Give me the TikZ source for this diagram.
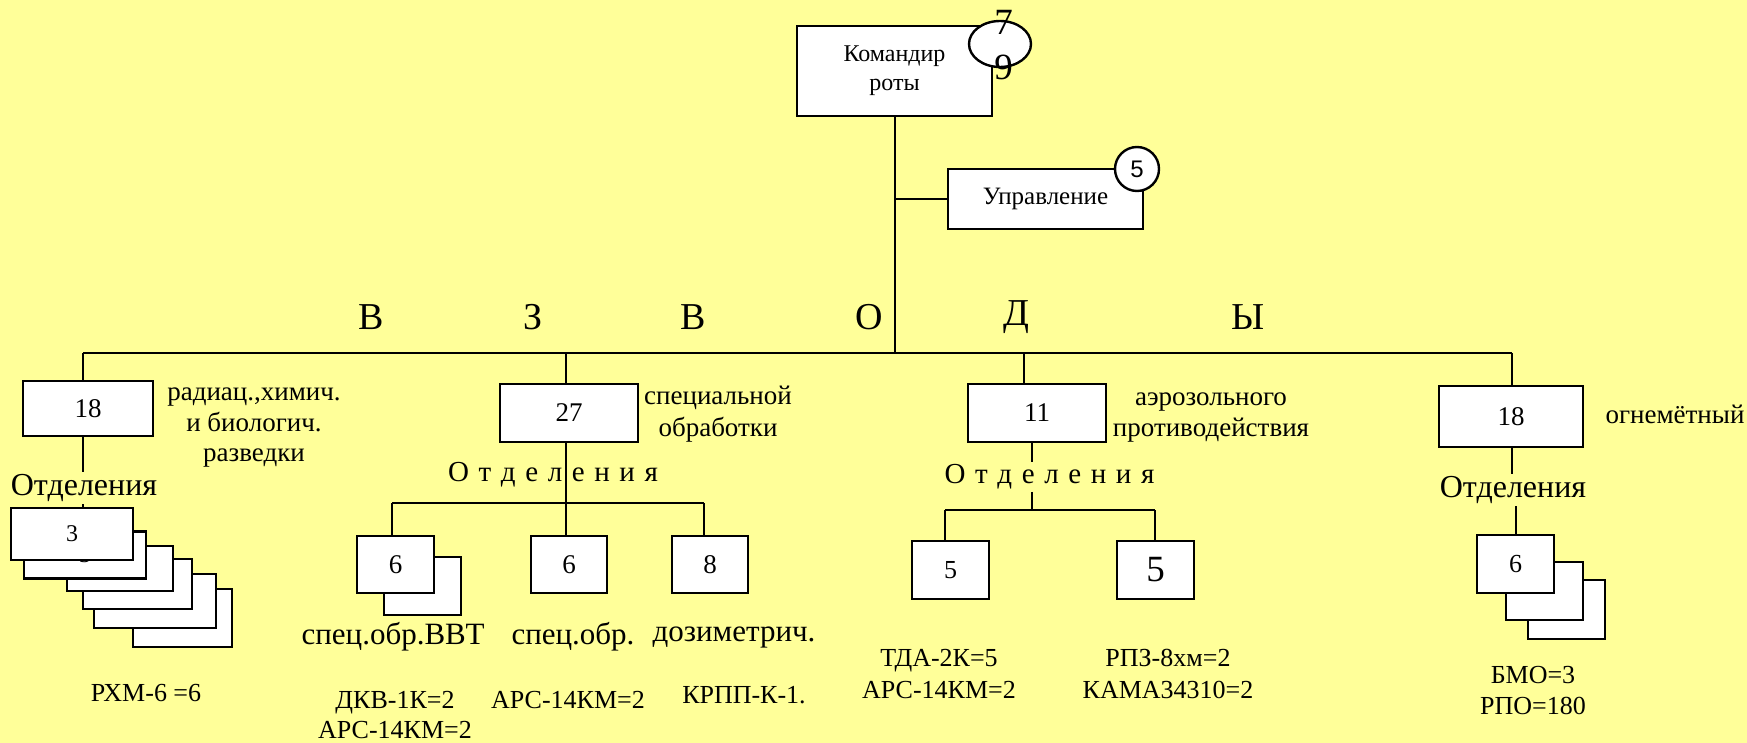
\documentclass[tikz,border=0pt]{standalone}
\usepackage{fontspec}
\setmainfont{Liberation Serif}
\newfontfamily\numfont{Liberation Sans}
\usetikzlibrary{shapes.geometric}
\definecolor{bgyellow}{RGB}{255,255,153}
\newcommand{\gap}{\hspace{4.8pt}}
\tikzset{
  box/.style={draw, fill=white, line width=1.2pt, inner sep=0pt},
  ln/.style={line width=1pt},
  fnt/.style 2 args={font=\fontsize{#1}{#2}\selectfont},
  txt/.style={inner sep=1pt, align=center}
}

\begin{document}
\begin{tikzpicture}[x=0.5pt,y=-0.5pt]
\fill[bgyellow] (0,0) rectangle (1747,743);
\useasboundingbox (0,0) rectangle (1747,743);

\coordinate (bus1) at (83,353);
\coordinate (bus2) at (566,353);
\coordinate (bus3) at (1024,353);
\coordinate (bus4) at (1512,353);
\coordinate (j2) at (566,503);
\coordinate (j2l) at (392,503);
\coordinate (j2r) at (704,503);
\coordinate (j3) at (1032,510);
\coordinate (j3l) at (945,510);
\coordinate (j3r) at (1155,510);

\node[box,fnt={12}{14.5},align=center,minimum width=97.5pt,minimum height=45pt] (cmd) at (894.5,71) {Командир\\роты};
\node[ellipse,draw,fill=white,line width=1.2pt,inner sep=0pt,minimum width=31pt,minimum height=23pt] (cmdcnt) at (1000,44) {};
\node[txt,fnt={18.5}{22.5}] (cmdnum) at (1003.5,45.5) {7\\9};

\node[box,fnt={12.5}{15},minimum width=97.5pt,minimum height=30pt] (upr) at (1045.5,199) {Управление};
\node[circle,draw,fill=white,line width=1.2pt,inner sep=0pt,minimum size=22pt,font=\numfont\fontsize{12}{14}\selectfont] (uprcnt) at (1137,169) {5};

\node[txt,fnt={19}{23}] (v1) at (371,317) {В};
\node[txt,fnt={19}{23}] (v2) at (533,317) {З};
\node[txt,fnt={19}{23}] (v3) at (693,317) {В};
\node[txt,fnt={19}{23}] (v4) at (869,317) {О};
\node[txt,fnt={19}{23}] (v5) at (1016,317) {Д};
\node[txt,fnt={19}{23}] (v6) at (1248,317) {Ы};

\node[box,fnt={13.5}{16},minimum width=65pt,minimum height=27.5pt] (p1) at (88,408.5) {18};
\node[box,fnt={13.5}{16},minimum width=69pt,minimum height=29pt] (p2) at (569,413) {27};
\node[box,fnt={13.5}{16},minimum width=69pt,minimum height=29pt] (p3) at (1037,413) {11};
\node[box,fnt={13.5}{16},minimum width=72pt,minimum height=30.5pt] (p4) at (1511,416.5) {18};

\node[txt,fnt={13.5}{15.25}] (l1) at (254,428) {радиац.,химич.\\и биологич.\\разведки};
\node[txt,fnt={13.5}{16}] (l2) at (718,414) {специальной\\обработки};
\node[txt,fnt={13.5}{15.5}] (l3) at (1211,417.5) {аэрозольного\\противодействия};
\node[txt,fnt={13.5}{16}] (l4) at (1675,414) {огнемётный};

\node[txt,fnt={16}{19}] (o1) at (84,488) {Отделения};
\node[txt,fnt={14.5}{17}] (o2) at (553,475) {О\gap т\gap д\gap е\gap л\gap е\gap н\gap и\gap я};
\node[txt,fnt={14.5}{17}] (o3) at (1049.5,477) {О\gap т\gap д\gap е\gap л\gap е\gap н\gap и\gap я};
\node[txt,fnt={16}{19}] (o4) at (1513,490) {Отделения};

\node[box,minimum width=49.5pt,minimum height=29pt] (b6) at (182.5,618) {};
\node[box,minimum width=61pt,minimum height=27pt] (b5) at (155,601) {};
\node[box,minimum width=54.5pt,minimum height=25pt] (b4) at (137.5,584) {};
\node[box,minimum width=53pt,minimum height=22.5pt] (b3) at (120,568.5) {};
\node[box,fnt={12}{14},minimum width=61pt,minimum height=23.5pt] (b2) at (85,555) {3};
\node[box,fnt={12}{14},minimum width=61pt,minimum height=26pt] (b1) at (72,534) {3};
\node[txt,fnt={13}{15}] (n1) at (146,693) {РХМ-6 =6};

\node[box,minimum width=38.5pt,minimum height=29pt] (q1b) at (422.5,586) {};
\node[box,fnt={13.5}{16},minimum width=38.5pt,minimum height=28.5pt] (q1) at (395.5,564.5) {6};
\node[box,fnt={13.5}{16},minimum width=38pt,minimum height=28.5pt] (q2) at (569,564.5) {6};
\node[box,fnt={13.5}{16},minimum width=38pt,minimum height=28.5pt] (q3) at (710,564.5) {8};
\node[txt,fnt={15.5}{18}] (t1) at (393,637) {спец.обр.ВВТ};
\node[txt,fnt={15.5}{18}] (t2) at (573,637) {спец.обр.};
\node[txt,fnt={15.5}{18}] (t3) at (734,637) {дозиметрич.};
\node[txt,fnt={13}{15}] (n2) at (395,715) {ДКВ-1К=2\\АРС-14КМ=2};
\node[txt,fnt={13}{15}] (n3) at (568,700) {АРС-14КМ=2};
\node[txt,fnt={13}{15}] (n4) at (744,695) {КРПП-К-1.};

\node[box,fnt={13}{15},minimum width=38.5pt,minimum height=29pt] (r1) at (950.5,570) {5};
\node[box,fnt={18.5}{22},minimum width=38.5pt,minimum height=29pt] (r2) at (1155.5,570) {5};
\node[txt,fnt={13}{16}] (n5) at (939,674) {ТДА-2К=5\\АРС-14КМ=2};
\node[txt,fnt={13}{16}] (n6) at (1168,674) {РПЗ-8хм=2\\КАМА34310=2};

\node[box,minimum width=38.5pt,minimum height=29.5pt] (s1) at (1566.5,609.5) {};
\node[box,minimum width=38.5pt,minimum height=29pt] (s2) at (1544.5,591) {};
\node[box,fnt={13}{15},minimum width=38.5pt,minimum height=29pt] (s3) at (1515.5,564) {6};
\node[txt,fnt={13}{15.5}] (n7) at (1533,690.5) {БМО=3\\РПО=180};

\draw[ln] (cmd.south) -- (cmd.south |- bus1);
\draw[ln] (upr.west) -- (upr.west -| cmd.south);
\draw[ln] (bus1) -- (bus4);
\draw[ln] (bus1) -- (bus1 |- p1.north);
\draw[ln] (bus2) -- (bus2 |- p2.north);
\draw[ln] (bus3) -- (bus3 |- p3.north);
\draw[ln] (bus4) -- (bus4 |- p4.north);

\draw[ln] (p1.south -| bus1) -- (o1.north -| bus1);
\draw[ln] (o1.south -| bus1) -- (b1.north -| bus1);

\draw[ln] (p2.south -| j2) -- (j2);
\draw[ln] (j2l) -- (j2r);
\draw[ln] (j2l) -- (j2l |- q1.north);
\draw[ln] (j2) -- (j2 |- q2.north);
\draw[ln] (j2r) -- (j2r |- q3.north);

\draw[ln] (p3.south -| j3) -- (o3.north -| j3);
\draw[ln] (o3.south -| j3) -- (j3);
\draw[ln] (j3l) -- (j3r);
\draw[ln] (j3l) -- (j3l |- r1.north);
\draw[ln] (j3r) -- (j3r |- r2.north);

\draw[ln] (p4.south -| bus4) -- (o4.north -| bus4);
\draw[ln] (o4.south -| s3.north) -- (s3.north);
\end{tikzpicture}
\end{document}
